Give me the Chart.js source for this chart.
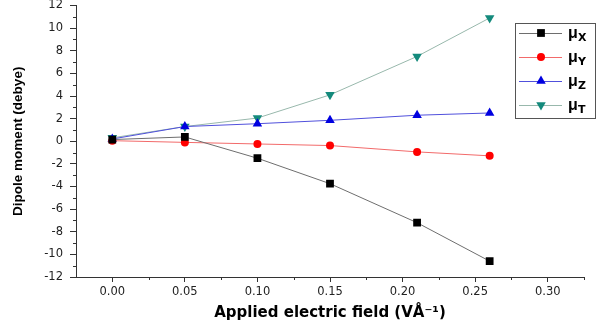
<!DOCTYPE html>
<html>
<head>
<meta charset="utf-8">
<script src="https://cdn.jsdelivr.net/npm/chart.js@4"></script>
<style>
  html, body { margin: 0; padding: 0; background: #fff; }
  #wrap { width: 600px; height: 326px; position: relative; }
</style>
</head>
<body>
<div id="wrap"><canvas id="chart"></canvas></div>
<script>
const fieldValues = [0, 0.05, 0.10, 0.15, 0.21, 0.26];
const muX = [0.15, 0.38, -1.5, -3.75, -7.2, -10.6];
const muY = [0.05, -0.1, -0.24, -0.38, -0.94, -1.29];
const muZ = [0.2, 1.3, 1.55, 1.85, 2.3, 2.5];
const muT = [0.3, 1.3, 2.05, 4.1, 7.5, 10.9];
const seriesNames = ['X', 'Y', 'Z', 'T'];

const toPoints = arr => arr.map((v, i) => ({ x: fieldValues[i], y: v }));

const makeSet = (name, data, line, fill, style, radius, rot) => ({
    label: 'μ' + name, data: toPoints(data),
    borderColor: line, backgroundColor: fill, pointBorderColor: fill,
    borderWidth: 1, pointStyle: style, pointRotation: rot || 0,
    pointRadius: radius, pointBorderWidth: 0, tension: 0
});

const tickFont = { family: '"DejaVu Sans", Arial', size: 11.5 };

// minor ticks + legend with subscripts
const extras = {
    id: 'extras',
    afterDraw(chart) {
        const ctx = chart.ctx, xs = chart.scales.x, ys = chart.scales.y;
        ctx.save();
        ctx.strokeStyle = '#333'; ctx.lineWidth = 1;
        ctx.beginPath();
        for (let v = -11; v <= 11; v += 2) {
            const p = Math.round(ys.getPixelForValue(v)) + 0.5;
            ctx.moveTo(xs.left - 3, p); ctx.lineTo(xs.left, p);
        }
        for (let v = 0.025; v < 0.33; v += 0.05) {
            const p = Math.round(xs.getPixelForValue(v)) + 0.5;
            ctx.moveTo(p, ys.bottom); ctx.lineTo(p, ys.bottom + 3);
        }
        ctx.stroke();

        // legend box
        const bx = 515.5, by = 23.5, bw = 80, bh = 95;
        ctx.strokeStyle = '#555';
        ctx.strokeRect(bx, by, bw, bh);
        chart.data.datasets.forEach((ds, i) => {
            const y = 33 + i * 24;
            ctx.strokeStyle = ds.borderColor; ctx.lineWidth = 1;
            ctx.beginPath(); ctx.moveTo(519, y + 0.5); ctx.lineTo(562, y + 0.5); ctx.stroke();
            ctx.fillStyle = ds.backgroundColor;
            Chart.helpers.drawPoint(ctx, {
                pointStyle: ds.pointStyle, rotation: ds.pointRotation,
                radius: ds.pointRadius, borderWidth: 0
            }, 541, y);
            ctx.fillStyle = '#000';
            ctx.textBaseline = 'alphabetic';
            ctx.font = 'bold 16px "Liberation Sans", Arial';
            ctx.fillText('μ', 568, y + 5);
            ctx.font = 'bold 11px "DejaVu Sans", Arial';
            ctx.fillText(seriesNames[i], 578, y + 8);
        });
        ctx.restore();
    }
};

new Chart(document.getElementById('chart'), {
    type: 'line',
    data: {
        datasets: [
            makeSet('X', muX, '#6e6e6e', '#000', 'rect', 5.5),
            makeSet('Y', muY, '#f26a6a', '#f00', 'circle', 4),
            makeSet('Z', muZ, '#5050dc', '#0000e0', 'triangle', 5.5),
            makeSet('T', muT, '#98b8ac', '#148a7c', 'triangle', 5.5, 180)
        ]
    },
    options: {
        responsive: true, maintainAspectRatio: false, animation: false,
        layout: { padding: { top: 4, right: 16, left: 0, bottom: 0 } },
        plugins: { legend: { display: false }, tooltip: { enabled: false } },
        scales: {
            x: {
                type: 'linear', min: -0.025, max: 0.325,
                afterFit: s => { s.height = 49; s.paddingLeft = 0; s.paddingRight = 0; },
                afterBuildTicks: s => { s.ticks = [0, 0.05, 0.1, 0.15, 0.2, 0.25, 0.3].map(v => ({ value: v })); },
                grid: { drawOnChartArea: false, tickLength: 5, color: '#333' },
                border: { color: '#333', width: 1 },
                ticks: { color: '#222', font: tickFont, padding: 3, callback: v => v.toFixed(2) },
                title: { display: true, text: 'Applied electric field (VÅ⁻¹)', color: '#000',
                    font: { family: '"DejaVu Sans", Arial', size: 15, weight: 'bold' }, padding: { top: 2 } }
            },
            y: {
                min: -12, max: 12,
                afterFit: s => { s.width = 76; s.paddingTop = 0; s.paddingBottom = 0; },
                afterBuildTicks: s => { s.ticks = []; for (let v = -12; v <= 12; v += 2) s.ticks.push({ value: v }); },
                grid: { drawOnChartArea: false, tickLength: 6, color: '#333' },
                border: { color: '#333', width: 1 },
                ticks: { color: '#222', font: tickFont, padding: 7 },
                title: { display: true, text: 'Dipole moment (debye)', color: '#000',
                    font: { family: '"Liberation Sans", Arial', size: 13.5, weight: 'bold' },
                    padding: { top: 10, bottom: 2 } }
            }
        }
    },
    plugins: [extras]
});
</script>
</body>
</html>
